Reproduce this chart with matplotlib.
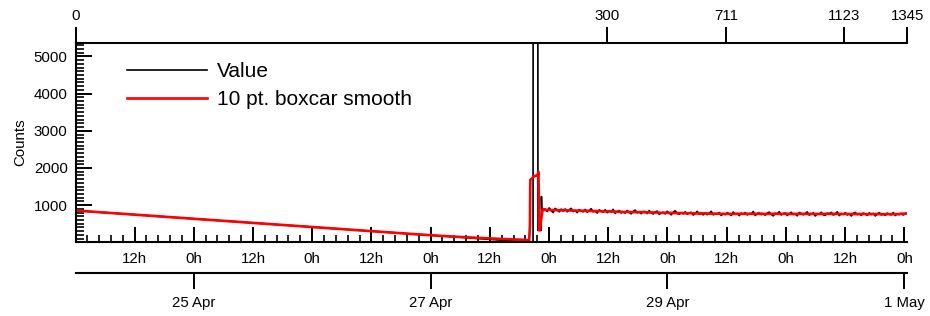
import matplotlib
matplotlib.use("Agg")
import matplotlib.pyplot as plt
import matplotlib.dates as mdates
from matplotlib.ticker import MultipleLocator, FixedLocator, FuncFormatter
import numpy as np
import pandas as pd

plt.rcParams["font.family"] = ["Liberation Sans", "DejaVu Sans"]

start = pd.Timestamp("2019-04-24 00:00")

# hours since 24 Apr 00:00 for the irregular part (descent, spike, settling)
sparse_hours = [0.14, 4.70, 9.26, 13.82, 18.38, 22.95, 27.51, 32.07, 36.63, 41.19,
                45.75, 50.31, 54.87, 59.43, 64.00, 68.56, 73.12, 77.68, 82.24, 86.80,
                91.36,
                91.67, 91.97, 92.13, 92.17, 92.21, 92.48, 92.76,
                92.78, 93.73,
                93.75, 93.80, 93.85, 93.90, 93.95, 94.00, 94.05, 94.10, 94.15, 94.20,
                94.25, 94.30, 94.35, 94.40,
                94.46,
                94.53, 94.59, 94.65, 94.71, 94.77, 94.83, 94.89, 94.95, 95.02]
sparse_counts = [855, 813, 771, 729, 686, 644, 602, 560, 518, 476,
                 433, 391, 349, 307, 265, 223, 180, 138, 96, 54,
                 12,
                 25, 15, 10, 20, 12, 18, 22,
                 9000, 7500,
                 340, 320, 335, 325, 330, 345, 315, 330, 325, 340,
                 335, 320, 330, 325,
                 1230,
                 905, 890, 870, 885, 860, 880, 895, 870, 875]

# regularly sampled part, 27 Apr ~23h to 1 May
dense_start_hour = 95.21
dense_end_hour = 168.6
dense_counts = [
    898, 829, 927, 858, 802, 912, 877, 822, 894, 840,
    897, 822, 876, 913, 829, 858, 799, 879, 847, 820,
    886, 808, 856, 904, 820, 843, 790, 874, 834, 816,
    877, 798, 844, 816, 888, 780, 831, 855, 790, 822,
    788, 854, 808, 767, 836, 867, 795, 818, 773, 827,
    830, 775, 854, 797, 764, 821, 839, 752, 793, 808,
    766, 835, 788, 742, 811, 850, 775, 755, 796, 767,
    820, 754, 793, 808, 736, 776, 835, 757, 790, 740,
    799, 745, 784, 835, 740, 770, 760, 803, 724, 775,
    746, 797, 770, 724, 815, 757, 778, 719, 788, 760,
    802, 738, 774, 756, 830, 723, 777, 792, 744, 771,
    732, 786, 813, 752, 714, 780, 768, 824, 737, 770,
    793, 724, 771, 810, 748, 760, 715, 802, 778, 742,
    779, 817, 733, 764, 794, 710, 772, 757, 808, 739,
    728, 788, 769, 806, 736, 758, 823, 719, 776, 754,
    795, 738, 767, 710, 782, 804, 746, 770, 726, 786,
    764, 725, 794, 749, 779, 710, 767, 801, 738, 758,
    728, 786, 755, 740, 801, 722, 768, 746, 780, 736,
    768, 782,
]

top_tick_labels = [0, 300, 711, 1123, 1345]
top_tick_hours = [0.14, 107.84, 131.85, 155.83, 168.6]
date_ticks = ["2019-04-25", "2019-04-27", "2019-04-29", "2019-05-01"]


def boxcar(v, n=10):
    # centred n-point boxcar (half weights at both ends of the window)
    w = np.r_[0.5, np.ones(n - 1), 0.5] / n
    half = n // 2
    padded = np.pad(v, (half, half), mode="reflect", reflect_type="odd")
    return np.convolve(padded, w, mode="valid")


dense_hours = np.linspace(dense_start_hour, dense_end_hour, len(dense_counts))
hours = np.concatenate([sparse_hours, dense_hours])
counts = np.concatenate([sparse_counts, dense_counts]).astype(float)
t = mdates.date2num(start + pd.to_timedelta(hours, unit="h"))
smooth = boxcar(counts)

fig = plt.figure(figsize=(9.3, 3.16), dpi=100)
ax = fig.add_axes([76 / 930, 74 / 316, 831.3 / 930, 199 / 316])

ax.plot(t, counts, color="black", lw=1.2, label="Value")
ax.plot(t, smooth, color="red", lw=1.9, label="10 pt. boxcar smooth")
ax.set_xlim(t[0], t[-1])
ax.set_ylim(counts.min(), 5360)

for s in ("top", "right"):
    ax.spines[s].set_visible(False)
for s in ("left", "bottom"):
    ax.spines[s].set_linewidth(1.5)

ax.yaxis.set_major_locator(MultipleLocator(1000))
ax.yaxis.set_minor_locator(MultipleLocator(100))
ax.tick_params(axis="y", which="major", direction="in", length=11.5, width=1.4,
               labelsize=10.8, pad=6)
ax.tick_params(axis="y", which="minor", direction="in", length=5.8, width=1.2)
ax.set_ylabel("Counts", fontsize=10.8, labelpad=5)

day0 = mdates.date2num(start)
ax.xaxis.set_major_locator(mdates.HourLocator(byhour=[0, 12]))
ax.xaxis.set_major_formatter(FuncFormatter(lambda v, p: f"{mdates.num2date(v).hour}h"))
ax.xaxis.set_minor_locator(FixedLocator(day0 + np.arange(0, 71) * 0.1))
ax.tick_params(axis="x", which="major", direction="in", length=11, width=1.4,
               labelsize=10.8, pad=7)
ax.tick_params(axis="x", which="minor", direction="in", length=5, width=1.2)

# point number axis on top
ax_top = ax.twiny()
ax_top.set_xlim(t[0], t[-1])
top_t = mdates.date2num(start + pd.to_timedelta(top_tick_hours, unit="h"))
ax_top.set_xticks(top_t)
ax_top.set_xticklabels([str(v) for v in top_tick_labels])
ax_top.tick_params(axis="x", direction="out", length=11.5, width=1.4,
                   labelsize=10.8, pad=3)
for s in ("left", "right", "bottom"):
    ax_top.spines[s].set_visible(False)
ax_top.spines["top"].set_linewidth(1.5)

# date axis below
ax_date = fig.add_axes([76 / 930, (316 - 273) / 316, 831.3 / 930, 0.0001])
ax_date.set_xlim(t[0], t[-1])
ax_date.patch.set_visible(False)
for s in ("left", "right", "top"):
    ax_date.spines[s].set_visible(False)
ax_date.spines["bottom"].set_linewidth(1.5)
ax_date.set_yticks([])
ax_date.set_xticks(mdates.date2num(pd.to_datetime(date_ticks)))
ax_date.xaxis.set_major_formatter(mdates.DateFormatter("%-d %b"))
ax_date.tick_params(axis="x", direction="out", length=11.5, width=1.4,
                    labelsize=10.8, pad=5)

ax.legend(loc="upper left", bbox_to_anchor=(0.0613, 0.905), frameon=False,
          fontsize=15, handlelength=3.85, handletextpad=0.48, labelspacing=0.44,
          borderpad=0, borderaxespad=0)

fig.savefig("out.png", dpi=100)
